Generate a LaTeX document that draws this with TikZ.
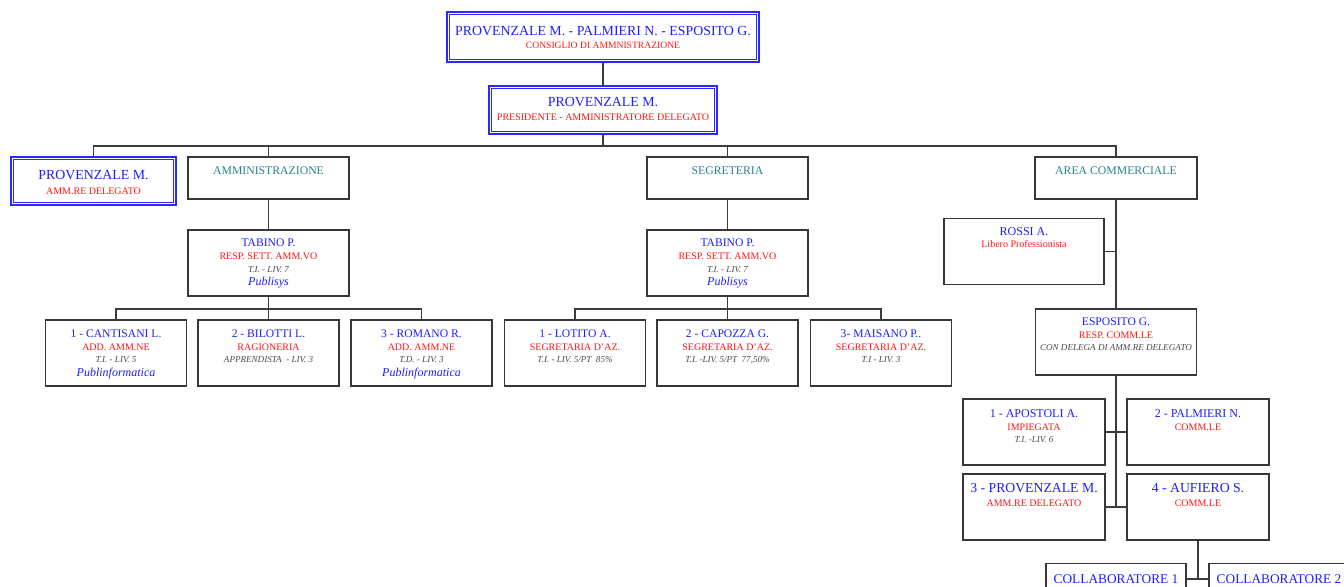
\documentclass[tikz,border=0pt]{standalone}
\usepackage{fontspec}
\setmainfont{Liberation Serif}
\definecolor{nameblue}{RGB}{30,30,255}
\definecolor{dblue}{RGB}{40,40,255}
\definecolor{redc}{RGB}{255,20,20}
\definecolor{tealc}{RGB}{40,130,140}
\definecolor{grayc}{RGB}{75,75,75}
\definecolor{bordc}{RGB}{55,55,55}
\definecolor{linec}{RGB}{60,60,60}
\begin{document}
\begin{tikzpicture}[x=0.75pt,y=-0.75pt,
  bx/.style 2 args={draw=bordc, line width=1.1pt, fill=white, inner sep=0pt, minimum width=#1*0.75pt, minimum height=#2*0.75pt},
  dbx/.style 2 args={draw=dblue, line width=1.6pt, fill=white, inner sep=0pt, minimum width=#1*0.75pt, minimum height=#2*0.75pt},
  dbin/.style={draw=dblue, line width=0.8pt},
  conn/.style={draw=linec, line width=1.1pt},
  txt/.style={anchor=base, inner sep=0pt},
  nmA/.style={txt, text=nameblue, font=\fontsize{10.4}{12}\selectfont},
  nmB/.style={txt, text=nameblue, font=\fontsize{8.7}{10}\selectfont},
  nmC/.style={txt, text=nameblue, font=\fontsize{9}{10}\selectfont},
  nmD/.style={txt, text=nameblue, font=\fontsize{10.3}{12}\selectfont},
  nmE/.style={txt, text=nameblue, font=\fontsize{10}{12}\selectfont},
  rd/.style={txt, text=redc, font=\fontsize{7.5}{9}\selectfont},
  rdS/.style={txt, text=redc, font=\fontsize{7.2}{9}\selectfont},
  gy/.style={txt, text=grayc, font=\fontsize{6.8}{8}\selectfont\itshape},
  pb/.style={txt, text=nameblue, font=\fontsize{9}{10}\selectfont\itshape},
  dept/.style={txt, text=tealc, font=\fontsize{8.8}{10}\selectfont}
]
\useasboundingbox (0,0) rectangle (1344,586);
\clip (0,0) rectangle (1344,586);
\fill[white] (0,0) rectangle (1344,586);

% ---------- boxes ----------
\node[dbx={312}{50}] (cda) at (603,37) {};
\draw[dbin] ([shift={(3.5,3.5)}]cda.north west) rectangle ([shift={(-3.5,-3.5)}]cda.south east);
\node[dbx={228}{48}] (pres) at (603,110) {};
\draw[dbin] ([shift={(3.5,3.5)}]pres.north west) rectangle ([shift={(-3.5,-3.5)}]pres.south east);
\node[dbx={165}{48}] (lft) at (93.5,181) {};
\draw[dbin] ([shift={(3.5,3.5)}]lft.north west) rectangle ([shift={(-3.5,-3.5)}]lft.south east);

\node[bx={161}{42}] (amm) at (268.5,178) {};
\node[bx={161}{42}] (seg) at (727.5,178) {};
\node[bx={162}{42}] (area) at (1116,178) {};

\node[bx={161}{66}] (tabA) at (268.5,263) {};
\node[bx={161}{66}] (tabS) at (727.5,263) {};

\node[bx={141}{66}] (a1) at (116,353) {};
\node[bx={141}{66}] (a2) at (268.5,353) {};
\node[bx={141}{66}] (a3) at (421.5,353) {};
\node[bx={141}{66}] (s1) at (575,353) {};
\node[bx={141}{66}] (s2) at (727.5,353) {};
\node[bx={141}{66}] (s3) at (881,353) {};

\node[bx={160}{66}] (rossi) at (1024,251.5) {};
\node[bx={161}{66}] (esp) at (1116,342) {};

\node[bx={142}{66}] (ap) at (1034,432) {};
\node[bx={142}{66}] (pa) at (1198,432) {};
\node[bx={142}{66}] (pr) at (1034,507) {};
\node[bx={142}{66}] (au) at (1198,507) {};

\node[bx={140}{31}] (c1) at (1116,579) {};
\node[bx={140}{31}] (c2) at (1279,579) {};

% ---------- connectors ----------
\coordinate (bar) at (603,146);
\draw[conn] (cda.south) -- (pres.north);
\draw[conn] (pres.south) -- (bar);
\draw[conn] (lft.north) |- (bar) -| (area.north);
\draw[conn] (amm.north) -- (amm.north |- bar);
\draw[conn] (seg.north) -- (seg.north |- bar);

\coordinate (barA) at (268.5,309);
\draw[conn] (amm.south) -- (tabA.north);
\draw[conn] (tabA.south) -- (a2.north);
\draw[conn] (a1.north) |- (barA) -| (a3.north);

\coordinate (barS) at (727.5,309);
\draw[conn] (seg.south) -- (tabS.north);
\draw[conn] (tabS.south) -- (s2.north);
\draw[conn] (s1.north) |- (barS) -| (s3.north);

\coordinate (vEnd) at (1116,507);
\draw[conn] (area.south) -- (esp.north);
\draw[conn] (rossi.east) -- (rossi.east -| area.south);
\draw[conn] (esp.south) -- (vEnd);
\draw[conn] (ap.east) -- (pa.west);
\draw[conn] (pr.east) -- (au.west);
\draw[conn] (au.south) -- (au.south |- c1.east);
\draw[conn] (c1.east) -- (c2.west);

% ---------- texts ----------
\node[nmA] (cda1) at (603,35) {PROVENZALE M. - PALMIERI N. - ESPOSITO G.};
\node[rdS] (cda2) at (603,48.3) {CONSIGLIO DI AMMNISTRAZIONE};
\node[nmA] (pres1) at (603,106) {PROVENZALE M.};
\node[rd] (pres2) at (603,120.7) {PRESIDENTE - AMMINISTRATORE DELEGATO};
\node[nmA] (lft1) at (93.5,179) {PROVENZALE M.};
\node[rd] (lft2) at (93.5,194) {AMM.RE DELEGATO};

\node[dept] (amm1) at (268.5,174.5) {AMMINISTRAZIONE};
\node[dept] (seg1) at (727.5,174.5) {SEGRETERIA};
\node[dept] (area1) at (1116,174.5) {AREA COMMERCIALE};

\node[nmB] (tabA1) at (268.5,246.5) {TABINO P.};
\node[rd] (tabA2) at (268.5,259) {RESP. SETT. AMM.VO};
\node[gy] (tabA3) at (268.5,272.5) {T.I. - LIV. 7};
\node[pb] (tabA4) at (268.5,285.5) {Publisys};
\node[nmB] (tabS1) at (727.5,246.5) {TABINO P.};
\node[rd] (tabS2) at (727.5,259) {RESP. SETT. AMM.VO};
\node[gy] (tabS3) at (727.5,272.5) {T.I. - LIV. 7};
\node[pb] (tabS4) at (727.5,285.5) {Publisys};

\node[nmB] (a1t1) at (116,337) {1 - CANTISANI L.};
\node[rd] (a1t2) at (116,350.5) {ADD. AMM.NE};
\node[gy] (a1t3) at (116,362.5) {T.I. - LIV. 5};
\node[pb] (a1t4) at (116,376.5) {Publinformatica};
\node[nmB] (a2t1) at (268.5,337) {2 - BILOTTI L.};
\node[rd] (a2t2) at (268.5,350.5) {RAGIONERIA};
\node[gy] (a2t3) at (268.5,362.5) {APPRENDISTA\ \ - LIV. 3};
\node[nmB] (a3t1) at (421.5,337) {3 - ROMANO R.};
\node[rd] (a3t2) at (421.5,350.5) {ADD. AMM.NE};
\node[gy] (a3t3) at (421.5,362.5) {T.D. - LIV. 3};
\node[pb] (a3t4) at (421.5,376.5) {Publinformatica};

\node[nmB] (s1t1) at (575,337) {1 - LOTITO A.};
\node[rd] (s1t2) at (575,350.5) {SEGRETARIA D'AZ.};
\node[gy] (s1t3) at (575,362.5) {T.I. - LIV. 5/PT\ \ 85\%};
\node[nmB] (s2t1) at (727.5,337) {2 - CAPOZZA G.};
\node[rd] (s2t2) at (727.5,350.5) {SEGRETARIA D'AZ.};
\node[gy] (s2t3) at (727.5,362.5) {T.I. -LIV. 5/PT\ \ 77,50\%};
\node[nmB] (s3t1) at (881,337) {3- MAISANO P..};
\node[rd] (s3t2) at (881,350.5) {SEGRETARIA D'AZ.};
\node[gy] (s3t3) at (881,362.5) {T.I - LIV. 3};

\node[nmC] (ros1) at (1024,235) {ROSSI A.};
\node[rd] (ros2) at (1024,247) {Libero Professionista};

\node[nmB] (esp1) at (1116,325) {ESPOSITO G.};
\node[rd] (esp2) at (1116,338.3) {RESP. COMM.LE};
\node[gy] (esp3) at (1116,350.7) {CON DELEGA DI AMM.RE DELEGATO};

\node[nmC] (ap1) at (1034,417.3) {1 - APOSTOLI A.};
\node[rd] (ap2) at (1034,430) {IMPIEGATA};
\node[gy] (ap3) at (1034,442.3) {T.I. -LIV. 6};
\node[nmC] (pa1) at (1198,417.3) {2 - PALMIERI N.};
\node[rd] (pa2) at (1198,430) {COMM.LE};
\node[nmD] (pr1) at (1034,492.7) {3 - PROVENZALE M.};
\node[rd] (pr2) at (1034,506.7) {AMM.RE DELEGATO};
\node[nmD] (au1) at (1198,492.7) {4 - AUFIERO S.};
\node[rd] (au2) at (1198,506.7) {COMM.LE};

\node[nmE] (c1t) at (1116,583.3) {COLLABORATORE 1};
\node[nmE] (c2t) at (1279,583.3) {COLLABORATORE 2};
\end{tikzpicture}
\end{document}
